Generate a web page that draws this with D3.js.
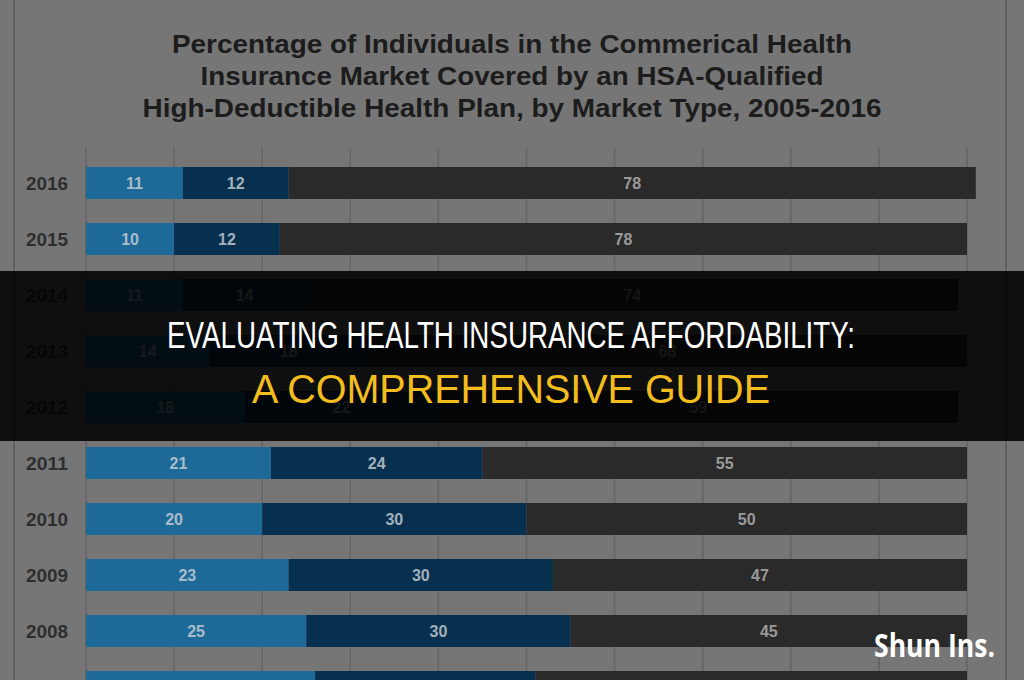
<!DOCTYPE html>
<html>
<head>
<meta charset="utf-8">
<script src="https://cdn.jsdelivr.net/npm/d3@7"></script>
<style>
  body { margin: 0; background: #757575; }
  svg { display: block; }
</style>
</head>
<body>
<div id="chart"></div>
<script>
// values (percent of market)
let years = ["2016", "2015", "2014", "2013", "2012", "2011", "2010", "2009", "2008", "2007"];
let individual = [11, 10, 11, 14, 18, 21, 20, 23, 25, 26];
let smallGroup = [12, 12, 14, 18, 22, 24, 30, 30, 30, 25];
let largeGroup = [78, 78, 74, 68, 59, 55, 50, 47, 45, 49];
let titleLines = [
    "Percentage of Individuals in the Commerical Health",
    "Insurance Market Covered by an HSA-Qualified",
    "High-Deductible Health Plan, by Market Type, 2005-2016"
];
let xTicks = [0, 10, 20, 30, 40, 50, 60, 70, 80, 90, 100];

let width = 1024, height = 680;

let svg = d3.select("#chart").append("svg")
    .attr("width", width)
    .attr("height", height);

svg.append("rect")
    .attr("width", width)
    .attr("height", height)
    .attr("fill", "#767676");

// frame lines of the original screenshot
[14, 1006].forEach(x => {
    svg.append("line")
        .attr("x1", x).attr("x2", x)
        .attr("y1", 0).attr("y2", height)
        .attr("stroke", "#5f5f5f")
        .attr("stroke-width", 2);
});

let x = d3.scaleLinear()
    .domain([0, 100])
    .range([86, 967]);

let y = d3.scaleBand()
    .domain(years)
    .range([155, 155 + 56 * years.length])
    .paddingInner(24 / 56)
    .paddingOuter(12 / 56);

// vertical grid
svg.append("g")
    .selectAll("line")
    .data(xTicks)
    .enter()
    .append("line")
    .attr("x1", d => x(d))
    .attr("x2", d => x(d))
    .attr("y1", 148)
    .attr("y2", height)
    .attr("stroke", "#646464")
    .attr("stroke-width", 1.5);

// title
svg.append("g")
    .selectAll("text")
    .data(titleLines)
    .enter()
    .append("text")
    .attr("x", 512)
    .attr("y", (d, i) => 53 + i * 32)
    .attr("text-anchor", "middle")
    .attr("font-family", "Liberation Sans, Arial, sans-serif")
    .attr("font-weight", "bold")
    .attr("font-size", "25px")
    .attr("fill", "#1c1c1c")
    .attr("textLength", (d, i) => [680, 623, 739][i])
    .attr("lengthAdjust", "spacingAndGlyphs")
    .text(d => d);

let rows = years.map((yr, i) => ({
    year: yr,
    parts: [
        {key: "ind", start: 0, value: individual[i]},
        {key: "small", start: individual[i], value: smallGroup[i]},
        {key: "large", start: individual[i] + smallGroup[i], value: largeGroup[i]}
    ]
}));

let colors = {ind: "#1d6a99", small: "#07304e", large: "#2a2a2a"};
let labelColors = {ind: "#a9bccb", small: "#a3b0bc", large: "#9a9a9a"};

let row = svg.append("g")
    .selectAll("g")
    .data(rows)
    .enter()
    .append("g")
    .attr("transform", d => `translate(0, ${y(d.year)})`);

row.selectAll("rect")
    .data(d => d.parts)
    .enter()
    .append("rect")
    .attr("x", d => x(d.start))
    .attr("width", d => x(d.start + d.value) - x(d.start))
    .attr("y", 0)
    .attr("height", y.bandwidth())
    .attr("fill", d => colors[d.key]);

// labels only for rows whose text fits in the picture
let labelled = row.filter(d => y(d.year) + y.bandwidth() / 2 + 8 < height);

labelled.append("text")
    .attr("x", 47)
    .attr("y", y.bandwidth() / 2 + 7)
    .attr("text-anchor", "middle")
    .attr("font-family", "Liberation Sans, Arial, sans-serif")
    .attr("font-size", "18px")
    .attr("font-weight", "bold")
    .attr("fill", "#2e2e2e")
    .attr("textLength", 42)
    .attr("lengthAdjust", "spacingAndGlyphs")
    .text(d => d.year);

labelled.selectAll(".val")
    .data(d => d.parts)
    .enter()
    .append("text")
    .attr("class", "val")
    .attr("x", d => x(d.start + d.value / 2))
    .attr("y", y.bandwidth() / 2 + 6)
    .attr("text-anchor", "middle")
    .attr("font-family", "Liberation Sans, Arial, sans-serif")
    .attr("font-size", "16px")
    .attr("font-weight", "bold")
    .attr("fill", d => labelColors[d.key])
    .text(d => d.value);

// dark banner
svg.append("rect")
    .attr("x", 0)
    .attr("y", 271)
    .attr("width", width)
    .attr("height", 170)
    .attr("fill", "rgba(0,0,0,0.87)");

svg.append("text")
    .attr("x", 511)
    .attr("y", 348)
    .attr("text-anchor", "middle")
    .attr("font-family", "Liberation Sans Narrow, Liberation Sans, Arial, sans-serif")
    .attr("font-size", "36px")
    .attr("fill", "#ffffff")
    .attr("textLength", 688)
    .attr("lengthAdjust", "spacingAndGlyphs")
    .text("EVALUATING HEALTH INSURANCE AFFORDABILITY:");

svg.append("text")
    .attr("x", 511)
    .attr("y", 403)
    .attr("text-anchor", "middle")
    .attr("font-family", "Liberation Sans Narrow, Liberation Sans, Arial, sans-serif")
    .attr("font-size", "41px")
    .attr("fill", "#f3bd1e")
    .attr("textLength", 518)
    .attr("lengthAdjust", "spacingAndGlyphs")
    .text("A COMPREHENSIVE GUIDE");

// watermark
svg.append("text")
    .attr("x", 874)
    .attr("y", 657)
    .attr("font-family", "Open Sans, Noto Sans, sans-serif")
    .attr("font-size", "32px")
    .attr("font-weight", "bold")
    .attr("fill", "#ffffff")
    .attr("textLength", 121)
    .attr("lengthAdjust", "spacingAndGlyphs")
    .text("Shun Ins.");
</script>
</body>
</html>
